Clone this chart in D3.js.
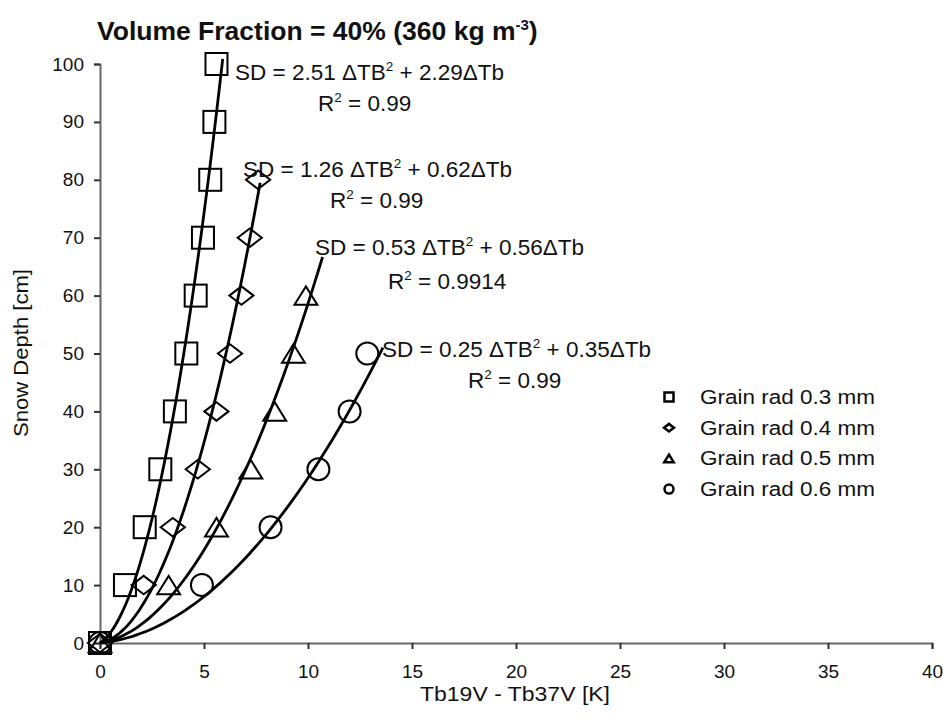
<!DOCTYPE html>
<html>
<head>
<meta charset="utf-8">
<script src="https://cdn.jsdelivr.net/npm/d3@7"></script>
<style>
  body { margin: 0; background: #fff; }
  svg { font-family: "Liberation Sans", Arial, sans-serif; }
</style>
</head>
<body>
<svg id="chart" width="943" height="727"></svg>
<script>
// snow depth values (cm) shared by all series
var depths = [0, 10, 20, 30, 40, 50, 60, 70, 80, 90, 100];
// Tb19V - Tb37V (K), per grain radius
var rad03 = [0, 1.2, 2.15, 2.9, 3.6, 4.15, 4.6, 4.95, 5.3, 5.5, 5.6];
var rad04 = [0, 2.1, 3.5, 4.7, 5.6, 6.25, 6.8, 7.2, 7.6];
var rad05 = [0, 3.3, 5.6, 7.25, 8.4, 9.3, 9.9];
var rad06 = [0, 4.9, 8.2, 10.5, 12.0, 12.85];
var seriesNames = ["Grain rad 0.3 mm", "Grain rad 0.4 mm", "Grain rad 0.5 mm", "Grain rad 0.6 mm"];
var symbolTypes = ["square", "diamond", "triangle", "circle"];
// trendline coefficients SD = a*dTb^2 + b*dTb and where the lines stop
var fitA = [2.51, 1.26, 0.53, 0.25];
var fitB = [2.29, 0.62, 0.56, 0.35];
var fitEnd = [5.9, 7.7, 10.7, 13.6];
var fitR2 = ["0.99", "0.99", "0.9914", "0.99"];
var xTicks = [0, 5, 10, 15, 20, 25, 30, 35, 40];
var yTicks = [0, 10, 20, 30, 40, 50, 60, 70, 80, 90, 100];

var svg = d3.select("#chart");
var x = d3.scaleLinear().domain([0, 40]).range([100, 932]);
var y = d3.scaleLinear().domain([0, 100]).range([643, 64]);

var xAxis = d3.axisBottom(x).tickValues(xTicks).tickSize(6).tickPadding(16);
var yAxis = d3.axisLeft(y).tickValues(yTicks).tickSize(6).tickPadding(10);

var gx = svg.append("g").attr("transform", "translate(0," + y(0) + ")").call(xAxis);
var gy = svg.append("g").attr("transform", "translate(" + x(0) + ",0)").call(yAxis);
[gx, gy].forEach(function(g) {
  g.select(".domain").attr("stroke", "#666").attr("stroke-width", 2);
  g.selectAll(".tick line").attr("stroke", "#333").attr("stroke-width", 2);
  g.selectAll(".tick text").attr("font-size", 19).attr("fill", "#111")
    .attr("font-family", "Liberation Sans, Arial, sans-serif");
});

// title and axis labels
var title = svg.append("text").attr("x", 97).attr("y", 40)
  .attr("font-size", 26.5).attr("font-weight", "bold").attr("fill", "#111");
title.append("tspan").text("Volume Fraction = 40% (360 kg m");
title.append("tspan").attr("dy", -10).attr("font-size", 15).text("-3");
title.append("tspan").attr("dy", 10).text(")");

svg.append("text").attr("x", 420).attr("y", 701)
  .attr("font-size", 21).attr("fill", "#111")
  .attr("textLength", 190).attr("lengthAdjust", "spacingAndGlyphs")
  .text("Tb19V - Tb37V [K]");
svg.append("text").attr("transform", "translate(28,437) rotate(-90)")
  .attr("font-size", 20).attr("fill", "#111")
  .attr("textLength", 168).attr("lengthAdjust", "spacingAndGlyphs")
  .text("Snow Depth [cm]");

// trendlines
var line = d3.line().x(function(d) { return x(d[0]); }).y(function(d) { return y(d[1]); })
  .curve(d3.curveBasis);
fitA.forEach(function(a, i) {
  var pts = d3.range(0, 41).map(function(k) {
    var t = fitEnd[i] * k / 40;
    return [t, a * t * t + fitB[i] * t];
  });
  svg.append("path").attr("d", line(pts)).attr("fill", "none")
    .attr("stroke", "#000").attr("stroke-width", 2.8);
});

// markers
var allSeries = [rad03, rad04, rad05, rad06];
function drawSymbol(g, type, cx, cy, s) {
  if (type === "square") {
    g.append("rect").attr("x", cx - s / 2).attr("y", cy - s / 2).attr("width", s).attr("height", s);
  } else if (type === "diamond") {
    var w = s * 0.55, h = s * 0.42;
    g.append("path").attr("d", "M" + (cx - w) + "," + cy + "L" + cx + "," + (cy - h) + "L" + (cx + w) + "," + cy + "L" + cx + "," + (cy + h) + "Z");
  } else if (type === "triangle") {
    var hw = s * 0.52, hh = s * 0.42;
    g.append("path").attr("d", "M" + (cx - hw) + "," + (cy + hh) + "L" + cx + "," + (cy - hh) + "L" + (cx + hw) + "," + (cy + hh) + "Z");
  } else {
    g.append("circle").attr("cx", cx).attr("cy", cy).attr("r", s * 0.5);
  }
}
allSeries.forEach(function(vals, i) {
  var g = svg.append("g").attr("fill", "none").attr("stroke", "#000").attr("stroke-width", 2);
  vals.forEach(function(v, k) {
    drawSymbol(g, symbolTypes[i], x(v), y(depths[k]), 22);
  });
});

// equations
var eqPos = [[235, 80, 318, 111], [243, 177, 330, 208], [315, 255, 388, 289], [382, 357, 468, 388]];
fitA.forEach(function(a, i) {
  var p = eqPos[i];
  var t = svg.append("text").attr("x", p[0]).attr("y", p[1]).attr("font-size", 22.5).attr("fill", "#111");
  t.append("tspan").text("SD = " + a.toFixed(2) + " \u0394TB");
  t.append("tspan").attr("dy", -9).attr("font-size", 13.5).text("2");
  t.append("tspan").attr("dy", 9).text(" + " + fitB[i].toFixed(2) + "\u0394Tb");
  var r = svg.append("text").attr("x", p[2]).attr("y", p[3]).attr("font-size", 22.5).attr("fill", "#111");
  r.append("tspan").text("R");
  r.append("tspan").attr("dy", -9).attr("font-size", 13.5).text("2");
  r.append("tspan").attr("dy", 9).text(" = " + fitR2[i]);
});

// legend
seriesNames.forEach(function(name, i) {
  var ly = 397 + i * 30.7;
  var g = svg.append("g").attr("fill", "none").attr("stroke", "#000").attr("stroke-width", 2.5);
  drawSymbol(g, symbolTypes[i], 669, ly, 9);
  svg.append("text").attr("x", 700).attr("y", ly + 7).attr("font-size", 20).attr("fill", "#111")
    .attr("textLength", 175).attr("lengthAdjust", "spacingAndGlyphs").text(name);
});
</script>
</body>
</html>
